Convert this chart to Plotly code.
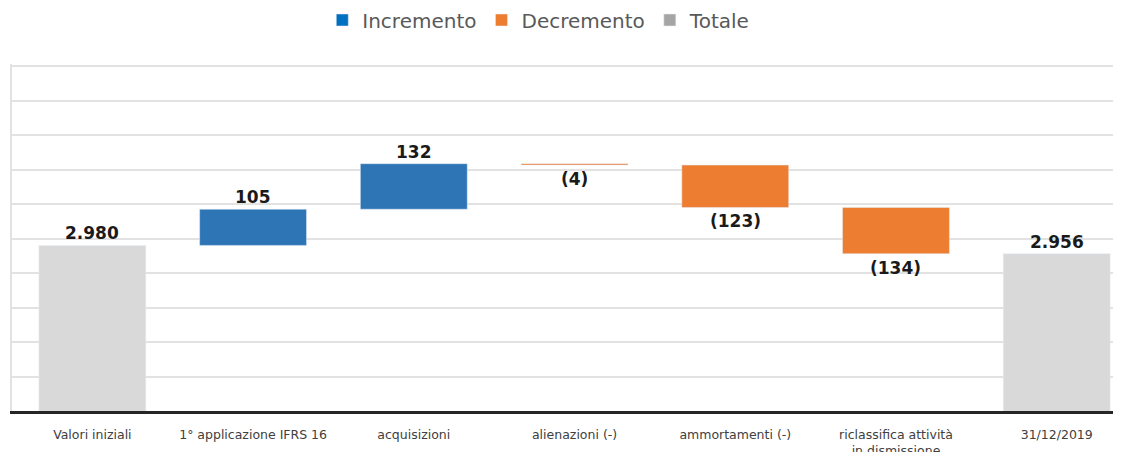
import plotly.graph_objects as go

# Dati del grafico a cascata (valori in milioni)
categorie = ["Valori iniziali", "1° applicazione IFRS 16", "acquisizioni", "alienazioni (-)",
             "ammortamenti (-)", "riclassifica attività<br>in dismissione", "31/12/2019"]
valore_iniziale = 2980
variazioni = [105, 132, -4, -123, -134]
valore_finale = 2956

col_incremento = "#2E75B6"
col_decremento = "#ED7D31"
col_totale = "#D9D9D9"


def fmt(v):
    s = f"{abs(v):,}".replace(",", ".")
    return f"({s})" if v < 0 else s


# Calcolo basi e altezze
inc_x, inc_y, inc_base = [], [], []
dec_x, dec_y, dec_base = [], [], []
etichette = []  # (x, y, testo, sopra)
cumulato = valore_iniziale
for cat, v in zip(categorie[1:-1], variazioni):
    if v >= 0:
        inc_x.append(cat)
        inc_y.append(v)
        inc_base.append(cumulato)
        etichette.append((cat, cumulato + v, fmt(v), True))
    else:
        dec_x.append(cat)
        dec_y.append(-v)
        dec_base.append(cumulato + v)
        etichette.append((cat, cumulato + v, fmt(v), False))
    cumulato += v

tot_x = [categorie[0], categorie[-1]]
tot_y = [valore_iniziale, valore_finale]
etichette.append((categorie[0], valore_iniziale, fmt(valore_iniziale), True))
etichette.append((categorie[-1], valore_finale, fmt(valore_finale), True))

fig = go.Figure()
fig.add_trace(go.Bar(x=tot_x, y=tot_y, base=[0, 0], marker_color=col_totale,
                     width=0.665, showlegend=False, hoverinfo="skip"))
fig.add_trace(go.Bar(x=inc_x, y=inc_y, base=inc_base, marker_color=col_incremento,
                     width=0.665, showlegend=False))
fig.add_trace(go.Bar(x=dec_x, y=dec_y, base=dec_base, marker_color=col_decremento,
                     width=0.665, showlegend=False))

# voci di legenda
for nome, col in [("Incremento", "#0070C0"), ("Decremento", "#ED7D31"), ("Totale", "#A5A5A5")]:
    fig.add_trace(go.Bar(x=[None], y=[None], name=nome, marker_color=col))

for cat, y, testo, sopra in etichette:
    fig.add_annotation(x=cat, y=y, text=f"<b>{testo}</b>", showarrow=False,
                       yanchor="bottom" if sopra else "top",
                       yshift=0 if sopra else -2,
                       font=dict(family="DejaVu Sans", size=17, color="#1a1a1a"))

# la pagina ha un margine di 8px: la figura è più piccola della finestra
fig.update_layout(
    width=1113, height=444,
    margin=dict(l=4, r=0, t=56, b=41, autoexpand=False),
    plot_bgcolor="white", paper_bgcolor="white",
    barmode="overlay",
    showlegend=True,
    legend=dict(orientation="h", x=0.475, xanchor="center",
                yref="container", y=1 - 12 / 444, yanchor="middle",
                font=dict(family="DejaVu Sans", size=20, color="#595959"),
                traceorder="normal"),
    xaxis=dict(categoryorder="array", categoryarray=categorie, range=[-0.5, 6.4],
               showline=True, linecolor="#262626", linewidth=2.5, ticks="",
               ticklabelstandoff=10, automargin=False,
               tickfont=dict(family="DejaVu Sans", size=12.5, color="#404040"),
               showgrid=False),
    yaxis=dict(range=[2500, 3506], dtick=100, showticklabels=False, automargin=False,
               showgrid=True, gridcolor="#E2E2E2", gridwidth=2,
               showline=True, linecolor="#E2E2E2", linewidth=2,
               zeroline=False),
)

fig.write_html("out.html")
